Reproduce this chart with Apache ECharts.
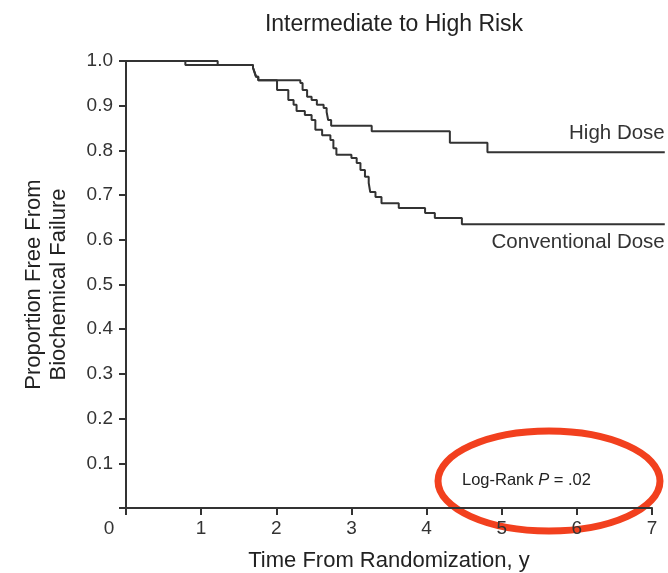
<!DOCTYPE html>
<html>
<head>
    <meta charset="utf-8">
    <title>Intermediate to High Risk</title>
    <script src="https://cdn.jsdelivr.net/npm/echarts@6/dist/echarts.min.js"></script>
    <style>
        html, body { margin: 0; padding: 0; background: #fff; }
        #main { width: 668px; height: 573px; }
    </style>
</head>
<body>
<div id="main"></div>
<script>
    // 时间(年) / 无生化失败比例, 阶梯点
    var highDose = [
        [0, 1.0], [1.22, 0.991], [1.69, 0.985], [1.71, 0.975], [1.73, 0.965], [1.76, 0.957],
        [2.32, 0.951], [2.35, 0.935], [2.41, 0.92], [2.47, 0.913], [2.54, 0.902],
        [2.63, 0.895], [2.67, 0.886], [2.69, 0.868], [2.73, 0.855], [3.27, 0.843],
        [4.31, 0.817], [4.81, 0.796], [7.17, 0.796]
    ];
    var conventionalDose = [
        [0, 1.0], [0.79, 0.991], [1.69, 0.985], [1.71, 0.975], [1.73, 0.965], [1.76, 0.957],
        [2.01, 0.935], [2.16, 0.913], [2.23, 0.902], [2.27, 0.888], [2.38, 0.879],
        [2.47, 0.868], [2.52, 0.846], [2.61, 0.834], [2.72, 0.823], [2.76, 0.805],
        [2.80, 0.79], [3.00, 0.783], [3.07, 0.772], [3.12, 0.756], [3.18, 0.741],
        [3.23, 0.727], [3.25, 0.707], [3.32, 0.696], [3.40, 0.682], [3.63, 0.671],
        [3.98, 0.66], [4.11, 0.649], [4.47, 0.635], [7.17, 0.635]
    ];
    var xTicks = [0, 1, 2, 3, 4, 5, 6, 7];
    var yTicks = [0.1, 0.2, 0.3, 0.4, 0.5, 0.6, 0.7, 0.8, 0.9, 1.0];

    var font = 'Liberation Sans, Arial, sans-serif';
    var ink = '#333';

    // 坐标轴只画到 7 年, 曲线延伸到 7 年以后, 所以曲线放在一个更宽的隐藏网格里, 比例尺相同
    var W = 668, gridLeft = 126, axisRight = 16, curveRight = 3;
    var xMax = xTicks[xTicks.length - 1];
    var curveMax = xMax * (W - gridLeft - curveRight) / (W - gridLeft - axisRight);

    var myChart = echarts.init(document.getElementById('main'));

    var option = {
        backgroundColor: '#fff',
        animation: false,
        title: {
            text: 'Intermediate to High Risk',
            left: 389,
            top: 8,
            textAlign: 'center',
            textStyle: { fontFamily: font, fontSize: 23, fontWeight: 'normal', color: '#222' }
        },
        grid: [
            { left: gridLeft, right: axisRight, top: 61, bottom: 65, outerBoundsMode: 'none' },
            { left: gridLeft, right: curveRight, top: 61, bottom: 65, outerBoundsMode: 'none' }
        ],
        xAxis: [
            {
                type: 'value',
                gridIndex: 0,
                min: xTicks[0],
                max: xMax,
                interval: 1,
                name: 'Time From Randomization, y',
                nameLocation: 'middle',
                nameGap: 42,
                nameTextStyle: { fontFamily: font, fontSize: 22, color: '#222' },
                axisLine: { lineStyle: { color: ink, width: 2 } },
                axisTick: { length: 7, lineStyle: { color: ink, width: 2 } },
                splitLine: { show: false },
                axisLabel: {
                    margin: 11,
                    fontFamily: font, fontSize: 19, color: '#333',
                    formatter: function (v) { return v === 0 ? '{z|0}' : String(v); },
                    rich: { z: { fontFamily: font, fontSize: 19, color: '#333', padding: [0, 34, 0, 0] } }
                }
            },
            {
                type: 'value',
                gridIndex: 1,
                min: 0,
                max: curveMax,
                show: false
            }
        ],
        yAxis: [
            {
                type: 'value',
                gridIndex: 0,
                min: 0,
                max: 1,
                interval: 0.1,
                name: 'Proportion Free From\nBiochemical Failure',
                nameLocation: 'middle',
                nameRotate: 90,
                nameGap: 55,
                nameTextStyle: { fontFamily: font, fontSize: 22, color: '#222', lineHeight: 25 },
                axisLine: { show: true, lineStyle: { color: ink, width: 2 } },
                axisTick: { show: true, length: 7, lineStyle: { color: ink, width: 2 } },
                splitLine: { show: false },
                axisLabel: {
                    margin: 13,
                    fontFamily: font, fontSize: 19, color: '#333',
                    formatter: function (v) {
                        return yTicks.indexOf(Math.round(v * 10) / 10) >= 0 && v > 0 ? v.toFixed(1) : '';
                    }
                }
            },
            {
                type: 'value',
                gridIndex: 1,
                min: 0,
                max: 1,
                show: false
            }
        ],
        series: [
            {
                name: 'High Dose',
                type: 'line',
                xAxisIndex: 1,
                yAxisIndex: 1,
                step: 'end',
                data: highDose,
                symbol: 'none',
                lineStyle: { color: ink, width: 2 },
                endLabel: {
                    show: true,
                    formatter: 'High Dose',
                    align: 'right',
                    verticalAlign: 'bottom',
                    offset: [-8, -8],
                    fontFamily: font, fontSize: 20.5, color: '#333'
                }
            },
            {
                name: 'Conventional Dose',
                type: 'line',
                xAxisIndex: 1,
                yAxisIndex: 1,
                step: 'end',
                data: conventionalDose,
                symbol: 'none',
                lineStyle: { color: ink, width: 2 },
                endLabel: {
                    show: true,
                    formatter: 'Conventional Dose',
                    align: 'right',
                    verticalAlign: 'top',
                    offset: [-8, 8],
                    fontFamily: font, fontSize: 20.5, color: '#333'
                }
            }
        ],
        graphic: [
            {
                type: 'text',
                left: 462,
                top: 472,
                style: {
                    text: 'Log-Rank {i|P} = .02',
                    fontFamily: font, fontSize: 16.5, fill: '#222',
                    rich: { i: { fontFamily: font, fontSize: 16.5, fontStyle: 'italic', fill: '#222' } }
                }
            },
            {
                type: 'ellipse',
                shape: { cx: 549, cy: 481, rx: 111, ry: 50 },
                style: { fill: 'none', stroke: '#f2401e', lineWidth: 7 }
            }
        ]
    };
    myChart.setOption(option, true);
</script>
</body>
</html>
